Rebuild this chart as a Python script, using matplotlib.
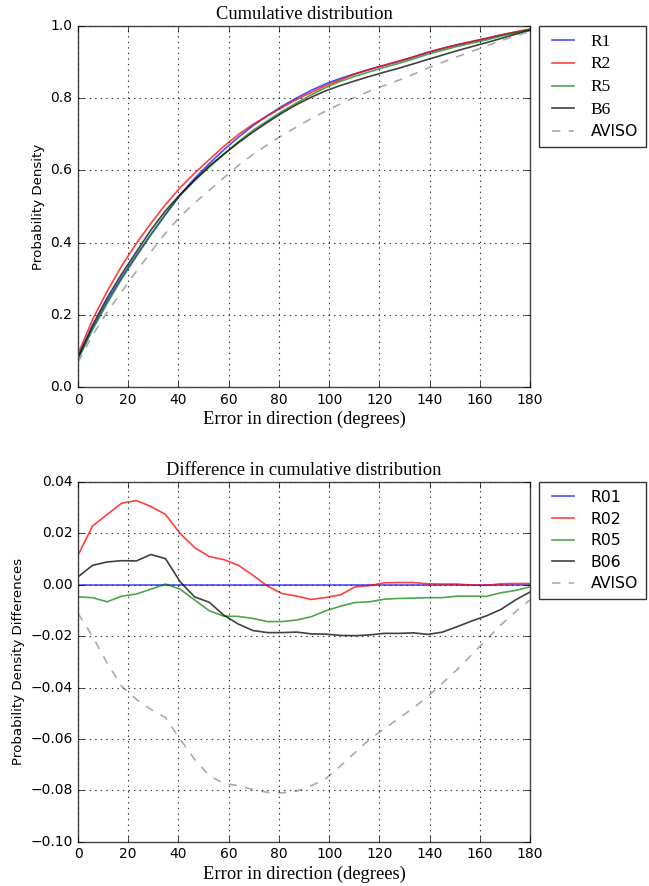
import numpy as np
import matplotlib
matplotlib.use("Agg")
import matplotlib.pyplot as plt
from matplotlib.ticker import FuncFormatter

plt.style.use('classic')
plt.rcParams['font.family'] = ['DejaVu Sans']
plt.rcParams['axes.unicode_minus'] = True

# x grid (degrees) for all series
angle = np.linspace(0, 180, 32)

# cumulative distribution of reference run R1
cdf_r1 = [0.080, 0.164, 0.238, 0.304, 0.365, 0.423, 0.478, 0.532,
          0.578, 0.619, 0.657, 0.692, 0.724, 0.752, 0.778, 0.801,
          0.822, 0.840, 0.855, 0.868, 0.880, 0.891, 0.902, 0.914,
          0.927, 0.938, 0.948, 0.957, 0.966, 0.975, 0.983, 0.991]

# differences relative to R1
diff_r02 = [0.0115, 0.0229, 0.0274, 0.0318, 0.0328, 0.0305, 0.0274, 0.0200,
            0.0145, 0.0110, 0.0098, 0.0076, 0.0037, -0.0005, -0.0034, -0.0044,
            -0.0057, -0.0049, -0.0039, -0.0008, -0.0003, 0.0008, 0.0009, 0.0009,
            0.0004, 0.0003, 0.0003, -0.0001, -0.0002, 0.0004, 0.0005, 0.0005]
diff_r05 = [-0.0047, -0.0050, -0.0066, -0.0044, -0.0036, -0.0017, 0.0003, -0.0017,
            -0.0059, -0.0101, -0.0122, -0.0123, -0.0131, -0.0143, -0.0143, -0.0137,
            -0.0124, -0.0101, -0.0083, -0.0069, -0.0066, -0.0056, -0.0053, -0.0052,
            -0.0050, -0.0050, -0.0044, -0.0044, -0.0045, -0.0031, -0.0022, -0.0008]
diff_b06 = [0.0031, 0.0076, 0.0089, 0.0094, 0.0093, 0.0118, 0.0102, 0.0012,
            -0.0047, -0.0068, -0.0118, -0.0153, -0.0178, -0.0186, -0.0186, -0.0184,
            -0.0191, -0.0192, -0.0197, -0.0198, -0.0195, -0.0189, -0.0189, -0.0187,
            -0.0193, -0.0184, -0.0163, -0.0141, -0.0121, -0.0096, -0.0059, -0.0028]
diff_aviso = [-0.0111, -0.0201, -0.0305, -0.0395, -0.0446, -0.0485, -0.0517, -0.0601,
              -0.0679, -0.0743, -0.0773, -0.0782, -0.0797, -0.0808, -0.0810, -0.0803,
              -0.0782, -0.0754, -0.0705, -0.0653, -0.0601, -0.0560, -0.0520, -0.0479,
              -0.0434, -0.0382, -0.0330, -0.0272, -0.0214, -0.0156, -0.0105, -0.0059]

top_labels = ['R1', 'R2', 'R5', 'B6', 'AVISO']
bottom_labels = ['R01', 'R02', 'R05', 'B06', 'AVISO']
xticks = [0, 20, 40, 60, 80, 100, 120, 140, 160, 180]

r1 = np.array(cdf_r1)
diffs = [np.zeros_like(r1), np.array(diff_r02), np.array(diff_r05),
         np.array(diff_b06), np.array(diff_aviso)]
cdfs = [r1 + d for d in diffs]

colors = ['#0000ff', '#ff0000', '#008000', '#000000', '#aaaaaa']
alphas = [0.7, 0.75, 0.7, 0.75, 1.0]
styles = ['-', '-', '-', '-', '--']
widths = [1.2, 1.2, 1.2, 1.2, 1.2]

serif = ['Liberation Serif', 'DejaVu Serif']

fig = plt.figure(figsize=(6.49, 8.86), dpi=100)
fig.patch.set_facecolor('white')
ax1 = fig.add_axes([0.1202, 0.5632, 0.6965, 0.4074])
ax2 = fig.add_axes([0.1202, 0.0500, 0.6965, 0.4059])

for ax, series, labels, title, ylabel, ylim, yticks, fmt in [
        (ax1, cdfs, top_labels, 'Cumulative distribution', 'Probability Density',
         (0, 1), np.arange(0, 1.01, 0.2), '%.1f'),
        (ax2, diffs, bottom_labels, 'Difference in cumulative distribution',
         'Probability Density Differences', (-0.10, 0.04), np.arange(-0.10, 0.041, 0.02), '%.2f')]:
    for y, lab, c, a, ls, lw in zip(series, labels, colors, alphas, styles, widths):
        ax.plot(angle, y, color=c, alpha=a, linestyle=ls, linewidth=lw, label=lab)
    ax.set_xlim(0, 180)
    ax.set_ylim(*ylim)
    ax.set_xticks(xticks)
    ax.set_yticks(yticks)
    ax.yaxis.set_major_formatter(FuncFormatter(
        lambda v, p, f=fmt: (f % v).replace('-', '\u2212') if abs(v) > 1e-9 else f % 0))
    ax.grid(True, linestyle=':', color='#333333', linewidth=0.8)
    ax.tick_params(labelsize=10, direction='in')
    ax.set_title(title, fontsize=13.3, family=serif, pad=5)
    ax.set_xlabel('Error in direction (degrees)', fontsize=13.3, family=serif, labelpad=3)
    ax.set_ylabel(ylabel, fontsize=9.6, labelpad=4)
    for sp in ax.spines.values():
        sp.set_color('#444444')
    leg = ax.legend(loc='upper left', bbox_to_anchor=(1.02, 1.0), fontsize=11.3,
                    handlelength=2.0, handletextpad=0.8, labelspacing=0.42,
                    borderpad=0.5, borderaxespad=0, fancybox=False, framealpha=1)
    leg.get_frame().set_edgecolor('#333333')
    leg.get_frame().set_linewidth(1.0)

# top legend: run names in serif, AVISO in sans
for t in ax1.get_legend().get_texts()[:4]:
    t.set_family(serif)
    t.set_fontsize(12.5)

fig.savefig('out.png', dpi=100)
